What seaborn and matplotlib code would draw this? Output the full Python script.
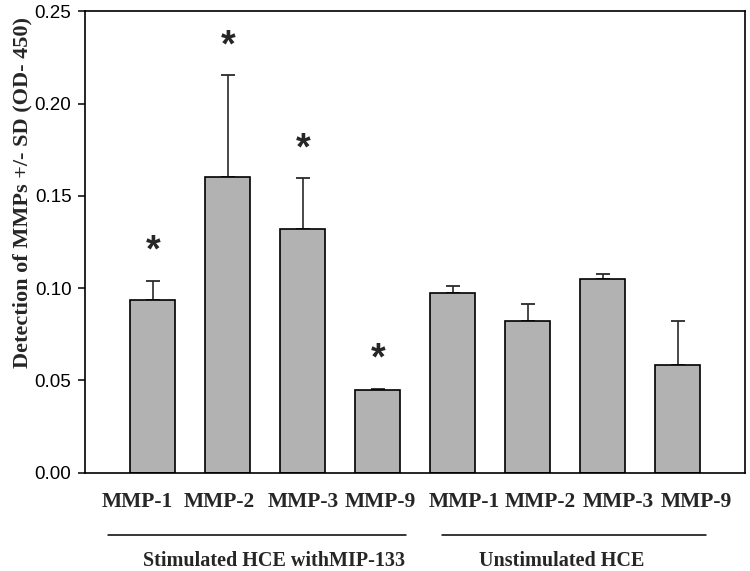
import matplotlib
matplotlib.use("Agg")
import matplotlib.pyplot as plt
import matplotlib.transforms as mtransforms
import seaborn as sns
import pandas as pd
import numpy as np

# ---- data ----
conditions = ["S MMP-1", "S MMP-2", "S MMP-3", "S MMP-9",
              "U MMP-1", "U MMP-2", "U MMP-3", "U MMP-9"]
tick_labels = ["MMP-1", "MMP-2", "MMP-3", "MMP-9",
               "MMP-1", "MMP-2", "MMP-3", "MMP-9"]
means = [0.0934, 0.1602, 0.1319, 0.0448, 0.0972, 0.0823, 0.1048, 0.0583]
sds = [0.0105, 0.0551, 0.0276, 0.0007, 0.0041, 0.0093, 0.0028, 0.0239]
significant = [True, True, True, True, False, False, False, False]
group_names = ["Stimulated HCE withMIP-133", "Unstimulated HCE"]

df = pd.DataFrame({"cond": conditions, "mean": means, "sd": sds})

sns.set_style("ticks")
plt.rcParams["font.family"] = ["Liberation Sans", "DejaVu Sans"]

fig = plt.figure(figsize=(7.5, 5.71), dpi=100)
ax = fig.add_axes([85 / 750, 1 - 472.7 / 571, 660 / 750, 461.4 / 571])

sns.barplot(data=df, x="cond", y="mean", order=conditions, color="#b2b2b2",
            saturation=1, edgecolor="black", linewidth=1.2, width=0.6,
            errorbar=None, ax=ax, zorder=2)

xs = np.arange(len(conditions))
ax.errorbar(xs, df["mean"], yerr=[np.zeros(len(xs)), df["sd"]], fmt="none",
            ecolor="#2a2a2a", elinewidth=1.2, capsize=4.7, capthick=1.3,
            zorder=1)

# significance stars
for i, (m, s, sig) in enumerate(zip(means, sds, significant)):
    if sig:
        ax.text(i, m + s + 0.02, "*", ha="center", va="center",
                fontsize=27, fontweight="bold", family="Liberation Sans",
                transform=ax.transData + mtransforms.ScaledTranslation(0, -5.5 / 72, fig.dpi_scale_trans))

ax.set_xlim(-0.903, 7.897)
ax.set_ylim(0, 0.25)
ax.set_yticks([0.00, 0.05, 0.10, 0.15, 0.20, 0.25])
ax.set_yticklabels(["0.00", "0.05", "0.10", "0.15", "0.20", "0.25"])
ax.tick_params(axis="y", direction="out", length=4.8, width=1.1,
               labelsize=13.5, pad=5, colors="black")

# x labels (placed slightly offset from bars as in the reference)
label_px = [137, 219, 303, 380, 464, 540, 618, 696]
label_pos = [(p - 152.7) / 75 for p in label_px]
ax.set_xticks(label_pos)
ax.set_xticklabels(tick_labels, family="Liberation Serif", fontweight="bold",
                   fontsize=15.5)
ax.tick_params(axis="x", length=0, pad=14)
ax.set_xlabel("")
ax.set_ylabel("")

for sp in ax.spines.values():
    sp.set_visible(True)
    sp.set_color("black")
    sp.set_linewidth(1.2)

# group lines and group labels (pixel layout -> figure fraction)
W, H = 750, 571
lines_px = [(108, 406), (441.7, 706)]
text_px = [274, 561.5]
for (x0, x1), tx, name in zip(lines_px, text_px, group_names):
    fig.add_artist(plt.Line2D([x0 / W, x1 / W], [1 - 535 / H, 1 - 535 / H],
                              color="black", linewidth=1.1))
    fig.text(tx / W, 1 - 566 / H, name, ha="center", va="baseline",
             family="Liberation Serif", fontweight="bold", fontsize=14.5)

fig.text(22 / W, 1 - 193 / H, "Detection of MMPs +/- SD (OD- 450)",
         rotation=90, ha="center", va="center", family="Liberation Serif",
         fontweight="bold", fontsize=16)

fig.savefig("out.png", dpi=100)
